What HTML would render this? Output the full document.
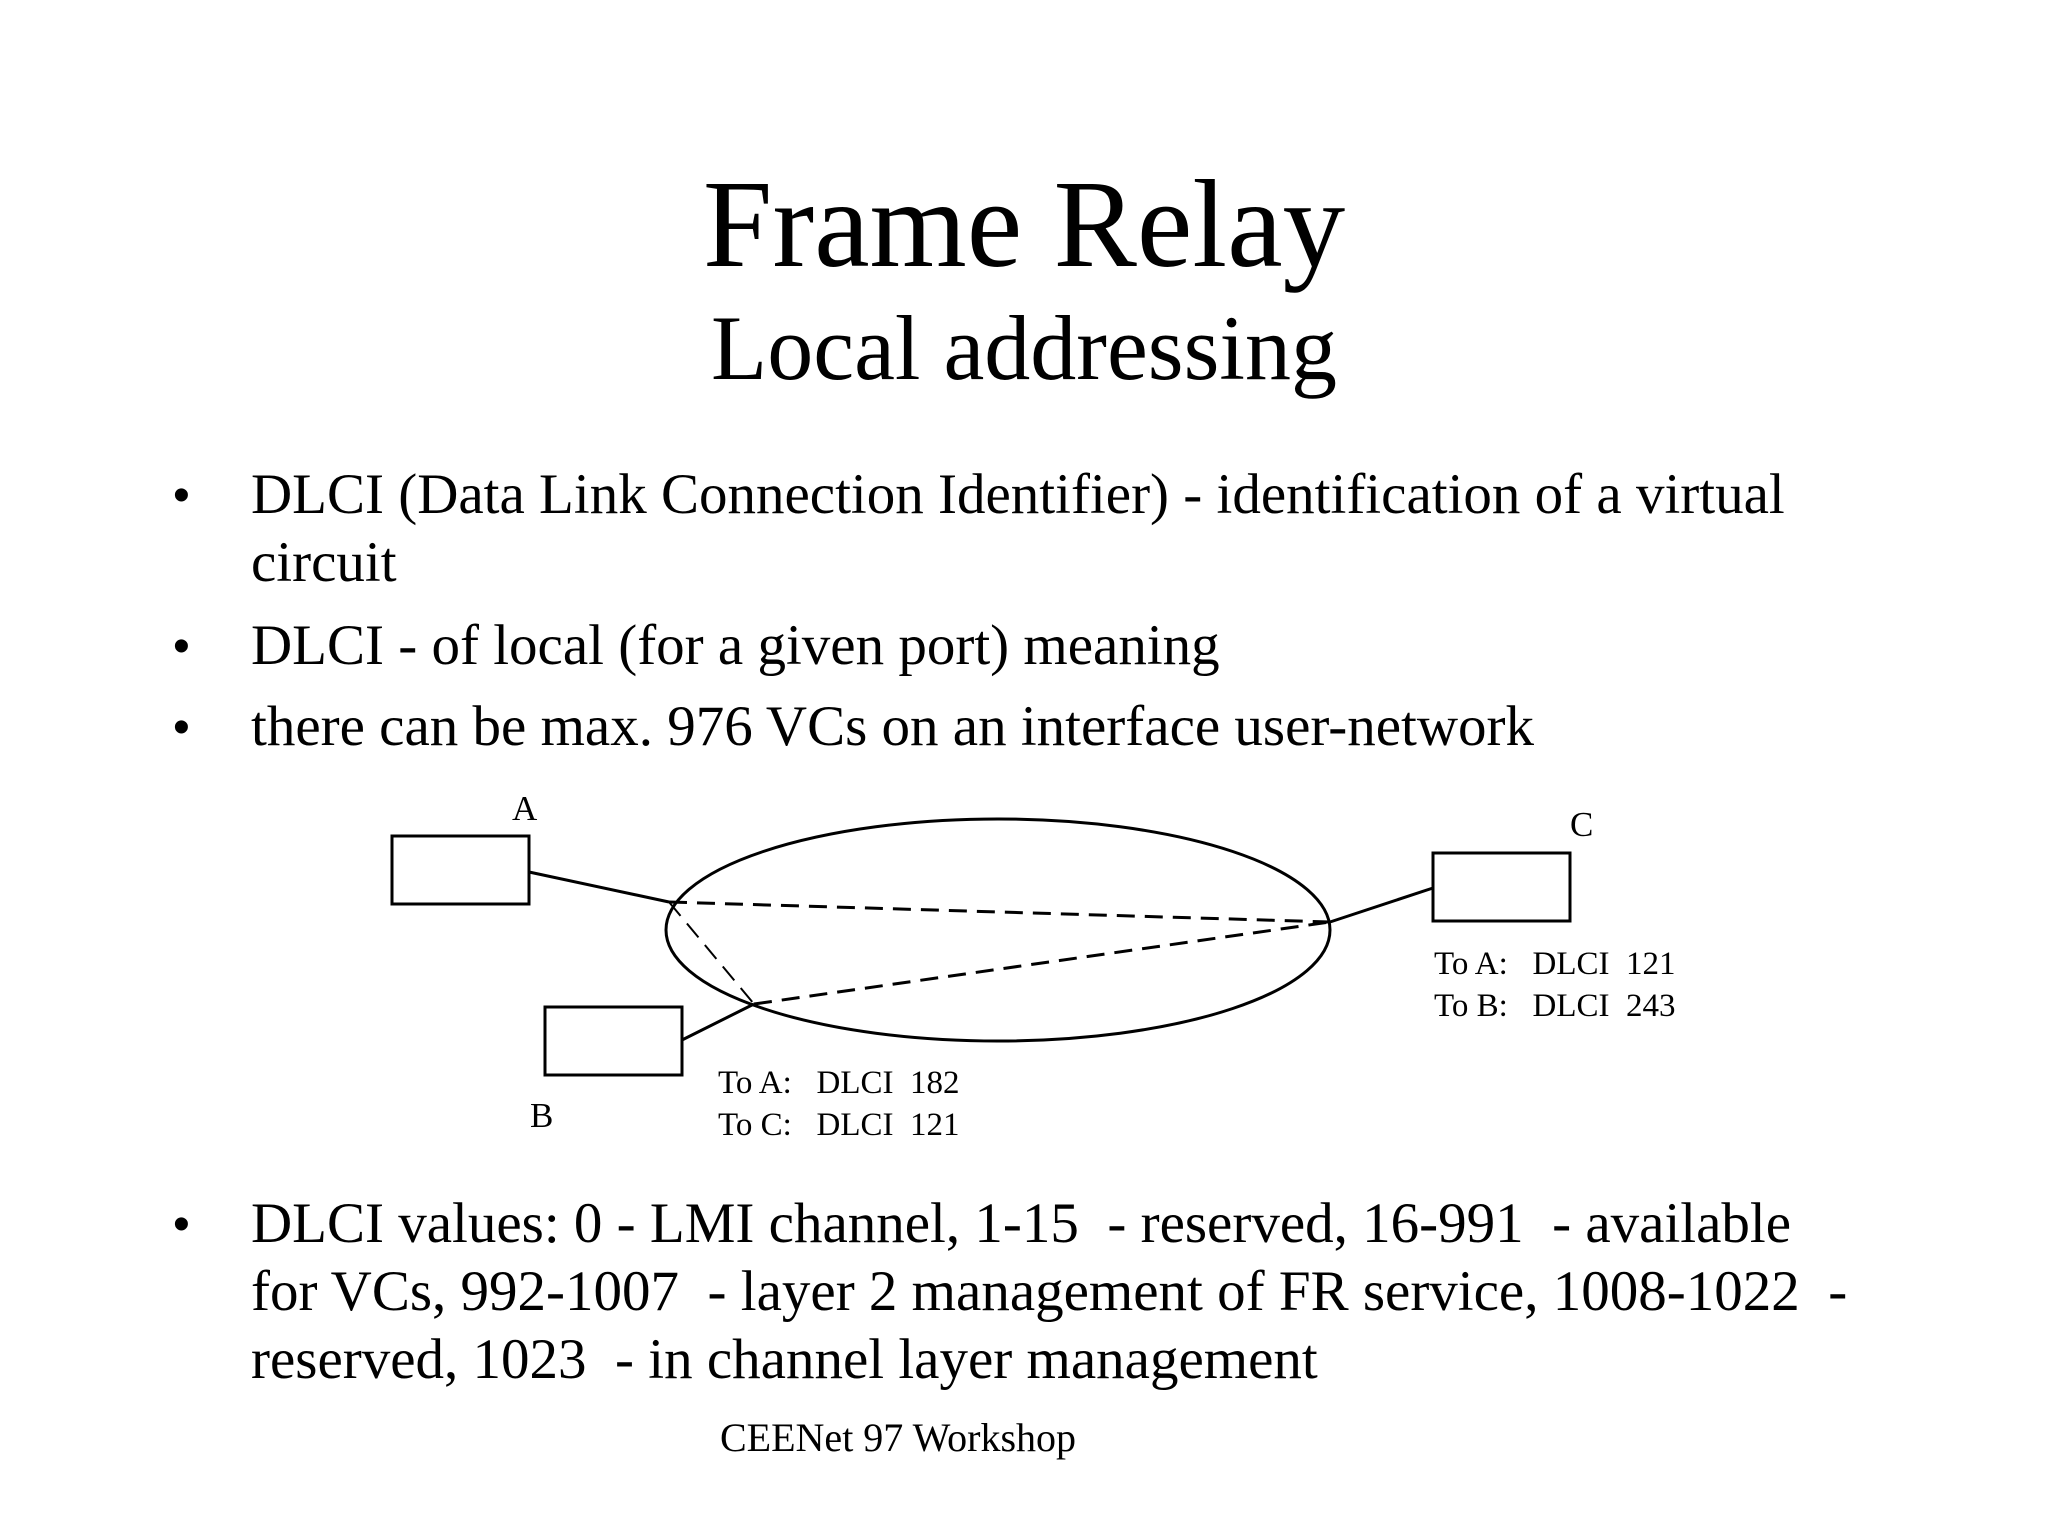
<!DOCTYPE html>
<html><head><meta charset="utf-8"><style>
body{margin:0;width:2048px;height:1536px;background:#fff;overflow:hidden;position:relative;font-family:"Liberation Serif",serif;color:#000}
.t{position:absolute;white-space:pre;line-height:1}
.b{position:absolute;font-family:"Liberation Sans",sans-serif;font-size:48px;line-height:1}
</style></head><body>
<div class="t" style="left:0;width:2048px;text-align:center;top:163px;font-size:125px">Frame Relay</div>
<div class="t" style="left:0;width:2048px;text-align:center;top:302px;font-size:92px">Local addressing</div>
<div class="b" style="left:173px;top:472px">•</div>
<div class="t" style="left:251px;top:466px;font-size:57px">DLCI (Data Link Connection Identifier) - identification of a virtual</div>
<div class="t" style="left:251px;top:534px;font-size:57px">circuit</div>
<div class="b" style="left:173px;top:623px">•</div>
<div class="t" style="left:251px;top:617px;font-size:57px">DLCI - of local (for a given port) meaning</div>
<div class="b" style="left:173px;top:704px">•</div>
<div class="t" style="left:251px;top:698px;font-size:57px">there can be max. 976 VCs on an interface user-network</div>
<div class="b" style="left:173px;top:1201px">•</div>
<div class="t" style="left:251px;top:1195px;font-size:57px">DLCI values: 0 - LMI channel, 1-15  - reserved, 16-991  - available</div>
<div class="t" style="left:251px;top:1263px;font-size:57px">for VCs, 992-1007  - layer 2 management of FR service, 1008-1022  -</div>
<div class="t" style="left:251px;top:1331px;font-size:57px">reserved, 1023  - in channel layer management</div>
<div class="t" style="left:720px;top:1418px;font-size:40px">CEENet 97 Workshop</div>
<svg style="position:absolute;left:0;top:0" width="2048" height="1536">
<g fill="none" stroke="#000" stroke-width="3">
<rect x="392" y="836" width="137" height="68"/>
<rect x="1433" y="853" width="137" height="68"/>
<rect x="545" y="1007" width="137" height="68"/>
<ellipse cx="998" cy="930" rx="332" ry="111"/>
<line x1="529" y1="872" x2="669" y2="902"/>
<line x1="1330" y1="922" x2="1433" y2="888"/>
<line x1="682" y1="1040" x2="754" y2="1004"/>
<g stroke-dasharray="18,10">
<line x1="669" y1="902" x2="1330" y2="922"/>
<line x1="754" y1="1004" x2="1330" y2="922"/>
<line x1="669" y1="902" x2="754" y2="1004" stroke-width="2"/>
</g></g>
<g font-family="Liberation Serif,serif" font-size="35">
<text x="512" y="820">A</text>
<text x="1570" y="836">C</text>
<text x="530" y="1127">B</text>
</g>
<g font-family="Liberation Serif,serif" font-size="33">
<text x="1434" y="974">To A:&#160;&#160; DLCI&#160; 121</text>
<text x="1434" y="1016">To B:&#160;&#160; DLCI&#160; 243</text>
<text x="718" y="1093">To A:&#160;&#160; DLCI&#160; 182</text>
<text x="718" y="1135">To C:&#160;&#160; DLCI&#160; 121</text>
</g>
</svg>
</body></html>
